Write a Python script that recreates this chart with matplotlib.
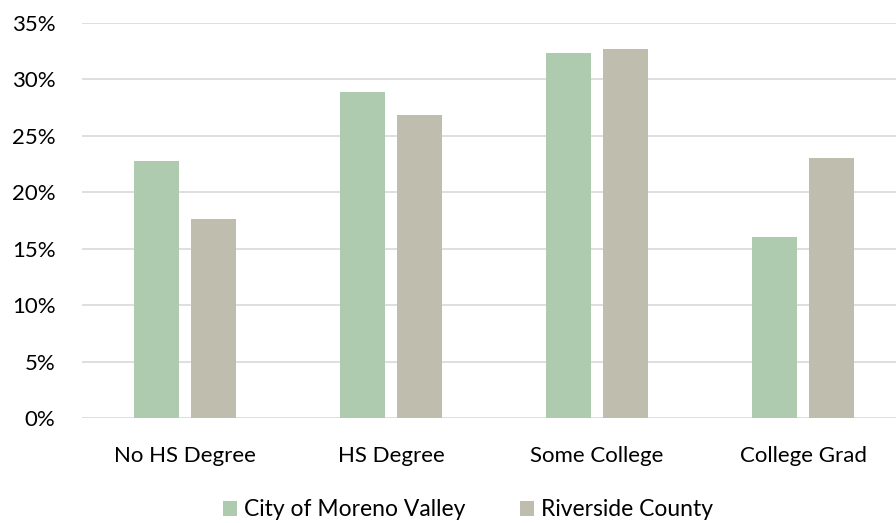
import matplotlib
matplotlib.use("Agg")
import matplotlib.pyplot as plt
import numpy as np
from matplotlib.ticker import FuncFormatter

categories = ["No HS Degree", "HS Degree", "Some College", "College Grad"]
moreno_valley = [22.8, 28.9, 32.3, 16.0]
riverside_county = [17.6, 26.8, 32.7, 23.0]
series_names = ["City of Moreno Valley", "Riverside County"]
yticks = [0, 5, 10, 15, 20, 25, 30, 35]

plt.rcParams['font.family'] = ['Lato', 'DejaVu Sans']

W, H = 896, 523
fig = plt.figure(figsize=(W / 100, H / 100), dpi=100)
left, right = 82 / W, 906 / W
bottom, top = 1 - 418.3 / H, 1 - 22.7 / H
ax = fig.add_axes([left, bottom, right - left, top - bottom])

x = np.arange(len(categories))
w = 0.218
off = 0.138
green = "#AFCBAF"
gray = "#BFBDAE"
ax.bar(x - off, moreno_valley, w, color=green, label=series_names[0], zorder=3)
ax.bar(x + off, riverside_county, w, color=gray, label=series_names[1], zorder=3)

ax.set_xlim(-0.5, len(categories) - 0.5)
ax.set_ylim(0, 35)
ax.set_yticks(yticks)
ax.yaxis.set_major_formatter(FuncFormatter(lambda v, p: f"{v:.0f}%"))
ax.set_xticks(x)
ax.set_xticklabels(categories)
ax.grid(axis='y', color="#D9D9D9", linewidth=1.2, zorder=0)
for s in ax.spines.values():
    s.set_visible(False)
ax.tick_params(axis='both', length=0, labelsize=16, colors="#000000")
ax.tick_params(axis='x', pad=20)
ax.tick_params(axis='y', pad=19)

fig.legend(loc='center', bbox_to_anchor=(468 / W, 1 - 510 / H), ncol=2, frameon=False,
           fontsize=16.5, handlelength=0.6, handleheight=0.6, handletextpad=0.3,
           columnspacing=2.4)

fig.savefig("out.png", dpi=100)
